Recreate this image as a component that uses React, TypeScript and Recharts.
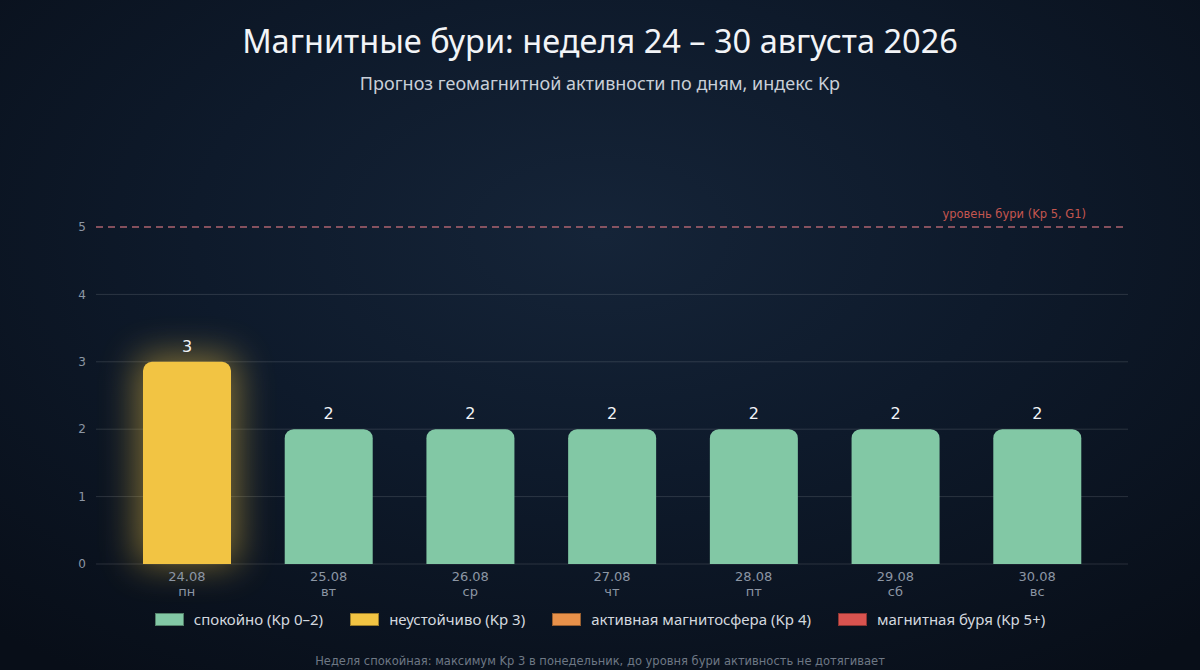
import { BarChart, Bar, XAxis, YAxis, CartesianGrid, ReferenceLine, LabelList, Cell, Rectangle } from "recharts";

const dates = ["24.08", "25.08", "26.08", "27.08", "28.08", "29.08", "30.08"];
const weekdays = ["пн", "вт", "ср", "чт", "пт", "сб", "вс"];
const kpValues = [3, 2, 2, 2, 2, 2, 2];
const yTicks = [0, 1, 2, 3, 4, 5];
const gridValues = [0, 1, 2, 3, 4];

const legendLabels = [
  "спокойно (Kp 0–2)",
  "неустойчиво (Kp 3)",
  "активная магнитосфера (Kp 4)",
  "магнитная буря (Kp 5+)",
];
const legendColors = ["#82c8a5", "#f2c443", "#e8914a", "#d9534f"];

const STORM_LEVEL = 5;

const colorFor = (kp: number) => {
  if (kp >= 5) return legendColors[3];
  if (kp >= 4) return legendColors[2];
  if (kp >= 3) return legendColors[1];
  return legendColors[0];
};

const data = dates.map((d, i) => ({ date: d, day: weekdays[i], kp: kpValues[i] }));

const TICK_COLOR = "#8c96a4";

function DayTick(props: any) {
  const { x, y, payload, index } = props;
  return (
    <text x={x} y={y} textAnchor="middle" fill={TICK_COLOR} fontSize={13} fontFamily="DejaVu Sans">
      <tspan x={x} dy={9}>{payload.value}</tspan>
      <tspan x={x} dy={15}>{weekdays[index]}</tspan>
    </text>
  );
}

function GlowBar(props: any) {
  const { x, y, width, height, payload } = props;
  const fill = colorFor(payload.kp);
  const glow = payload.kp >= 3;
  return (
    <g>
      {glow && (
        <Rectangle
          x={x - 6}
          y={y - 6}
          width={width + 12}
          height={height + 6}
          radius={[14, 14, 0, 0]}
          fill={fill}
          opacity={0.5}
          filter="url(#barGlow)"
        />
      )}
      <Rectangle x={x} y={y} width={width} height={height} radius={[9, 9, 0, 0]} fill={fill} />
    </g>
  );
}

function StormLabel(props: any) {
  const { viewBox } = props;
  if (!viewBox) return null;
  return (
    <text
      x={viewBox.x + viewBox.width - 42}
      y={viewBox.y - 9}
      textAnchor="end"
      fill="#c4564f"
      fontSize={11.5}
      fontFamily="DejaVu Sans"
    >
      уровень бури (Kp 5, G1)
    </text>
  );
}

export default function App() {
  return (
    <div
      style={{
        position: "relative",
        width: 1200,
        height: 670,
        overflow: "hidden",
        background:
          "radial-gradient(ellipse 75% 80% at 50% 35%, #152438 0%, #0e1a2b 45%, #080e18 100%)",
        fontFamily: "'Noto Sans', 'Open Sans', sans-serif",
      }}
    >
      <style>{`body{margin:0}`}</style>
      <div
        style={{
          position: "absolute",
          top: 19,
          width: "100%",
          textAlign: "center",
          color: "#f2f4f7",
          fontSize: 32.5,
          lineHeight: "44px",
        }}
      >
        Магнитные бури: неделя 24 – 30 августа 2026
      </div>
      <div
        style={{
          position: "absolute",
          top: 71,
          width: "100%",
          textAlign: "center",
          color: "#c9cfd8",
          fontSize: 18,
          lineHeight: "24px",
        }}
      >
        Прогноз геомагнитной активности по дням, индекс Kp
      </div>

      <div style={{ position: "absolute", left: 0, top: 0 }}>
        <BarChart
          width={1200}
          height={670}
          data={data}
          margin={{ top: 227, right: 72, bottom: 66, left: 0 }}
          barSize={88}
        >
          <defs>
            <filter id="barGlow" x="-80%" y="-50%" width="260%" height="200%">
              <feGaussianBlur stdDeviation="18" />
            </filter>
          </defs>
          <CartesianGrid vertical={false} stroke="rgba(255,255,255,0.13)" horizontalValues={gridValues} />
          <XAxis
            dataKey="date"
            height={40}
            axisLine={false}
            tickLine={false}
            padding={{ left: 20, right: 20 }}
            interval={0}
            tick={<DayTick />}
          />
          <YAxis
            width={96}
            domain={[0, 5]}
            ticks={yTicks}
            axisLine={false}
            tickLine={false}
            tick={{ fill: TICK_COLOR, fontSize: 12, fontFamily: "DejaVu Sans" }}
            tickMargin={4}
          />
          <ReferenceLine
            y={STORM_LEVEL}
            stroke="#c9707a"
            strokeOpacity={0.85}
            strokeDasharray="7 5"
            strokeWidth={1.3}
            label={<StormLabel />}
          />
          <Bar dataKey="kp" isAnimationActive={false} shape={<GlowBar />}>
            {data.map((d, i) => (
              <Cell key={i} fill={colorFor(d.kp)} />
            ))}
            <LabelList
              dataKey="kp"
              position="top"
              offset={10}
              fill="#f2f4f7"
              fontSize={16}
              fontFamily="DejaVu Sans"
            />
          </Bar>
        </BarChart>
      </div>

      <div
        style={{
          position: "absolute",
          top: 609,
          width: "100%",
          display: "flex",
          justifyContent: "center",
          gap: 27,
          color: "#d3d8df",
          fontSize: 15,
          lineHeight: "20px",
        }}
      >
        {legendLabels.map((label, i) => (
          <div key={label} style={{ display: "flex", alignItems: "center" }}>
            <span
              style={{
                display: "inline-block",
                width: 27,
                height: 11,
                background: legendColors[i],
                border: "1px solid rgba(0,0,0,0.35)",
                marginRight: 10,
              }}
            />
            {label}
          </div>
        ))}
      </div>

      <div
        style={{
          position: "absolute",
          top: 654,
          width: "100%",
          textAlign: "center",
          color: "#6e7885",
          fontSize: 11.5,
          fontFamily: "DejaVu Sans",
        }}
      >
        Неделя спокойная: максимум Kp 3 в понедельник, до уровня бури активность не дотягивает
      </div>
    </div>
  );
}
